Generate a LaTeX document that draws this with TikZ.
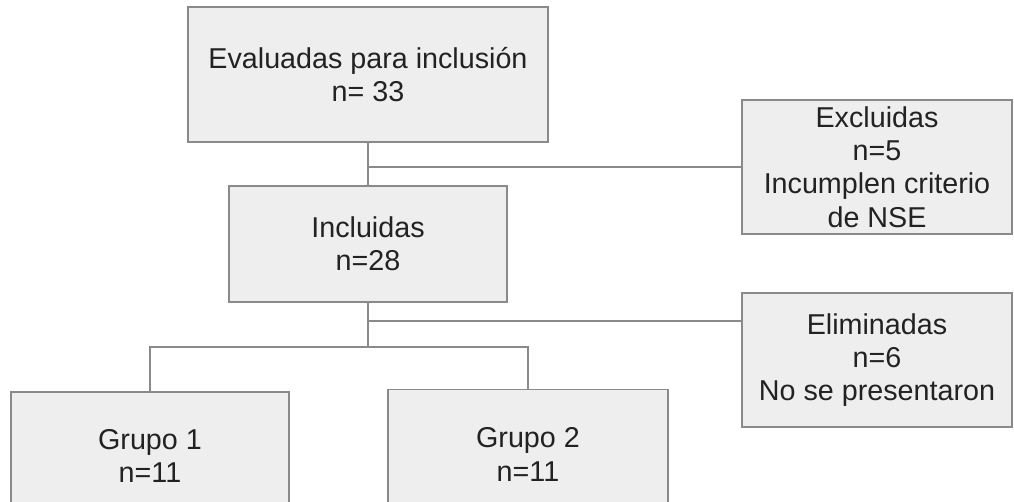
\documentclass[tikz,border=0pt]{standalone}
\usepackage{fontspec}
\setmainfont{Liberation Sans}
\usepackage{tikz}
\definecolor{boxfill}{HTML}{EEEEEE}
\definecolor{boxline}{HTML}{8A8A8A}
\definecolor{textgray}{HTML}{222222}

\begin{document}
\begin{tikzpicture}[x=0.5pt,y=-0.5pt]

\tikzset{
box/.style={rectangle,draw=boxline,fill=boxfill,line width=0.75pt,inner sep=0pt,align=center,text=textgray,font=\fontsize{14.35}{16.6}\selectfont},
link/.style={draw=boxline,line width=0.75pt}
}

\clip (0,0) rectangle (1014,502);

\node[box,minimum width=180pt,minimum height=67.5pt] (eval) at (368,74.5) {Evaluadas para inclusión\\n= 33};
\node[box,minimum width=135pt,minimum height=67pt] (excl) at (877,167) {Excluidas\\n=5\\Incumplen criterio\\de NSE};
\node[box,minimum width=139pt,minimum height=58pt] (incl) at (368,244) {Incluidas\\n=28};
\node[box,minimum width=135pt,minimum height=67pt] (elim) at (877,360) {Eliminadas\\n=6\\No se presentaron};
\node[box,minimum width=139pt,minimum height=64pt] (grupo1) at (150,456) {Grupo 1\\n=11};
\node[box,minimum width=140pt,minimum height=65pt] (grupo2) at (528,454.5) {Grupo 2\\n=11};

\coordinate (split) at (368,321);
\coordinate (fork) at (368,347);

\draw[link] (eval) -- (incl);
\draw[link] (eval.south |- excl.west) -- (excl.west);
\draw[link] (incl) -- (fork);
\draw[link] (split) -- (split -| elim.west);
\draw[link] (fork) -| (grupo1);
\draw[link] (fork) -| (grupo2);

\end{tikzpicture}
\end{document}
